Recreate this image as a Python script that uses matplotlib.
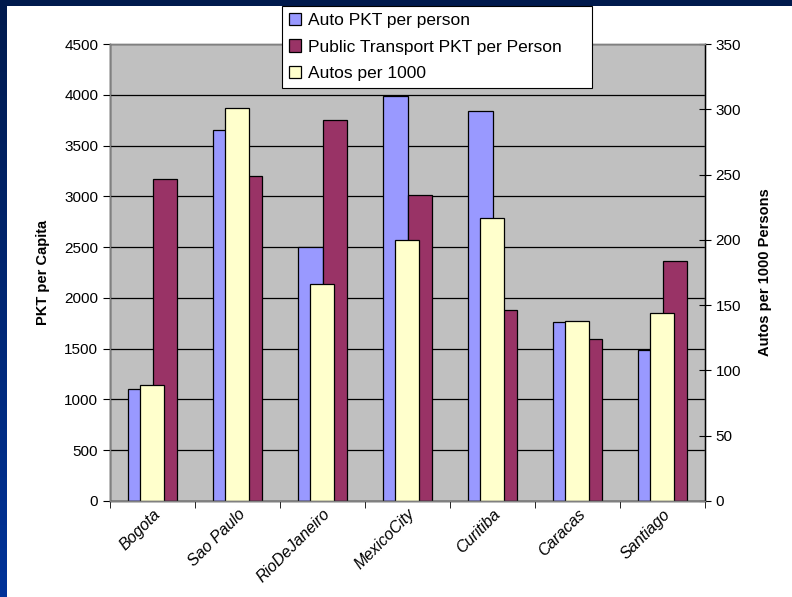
import matplotlib
matplotlib.use('Agg')
import matplotlib.pyplot as plt
import matplotlib.transforms as mtransforms
import numpy as np
from matplotlib.patches import Rectangle
from matplotlib.colors import LinearSegmentedColormap

plt.rcParams['font.family'] = ['Liberation Sans', 'DejaVu Sans']

cities = ['Bogota', 'Sao Paulo', 'RioDeJaneiro', 'MexicoCity', 'Curitiba', 'Caracas', 'Santiago']
auto_pkt = [1100, 3650, 2500, 3990, 3840, 1760, 1490]
public_pkt = [3170, 3200, 3750, 3010, 1880, 1600, 2360]
autos_per_1000 = [89, 301, 166, 200, 217, 138, 144]

fig = plt.figure(figsize=(7.92, 5.97), dpi=100)

# dark blue slide background with white chart area
bg = fig.add_axes([0, 0, 1, 1], zorder=-10)
grad = np.linspace(0, 1, 256).reshape(-1, 1)
cmap = LinearSegmentedColormap.from_list('slide', ['#001a4d', '#003399'])
bg.imshow(grad, aspect='auto', cmap=cmap, extent=[0, 1, 0, 1])
bg.set_axis_off()
bg.add_patch(Rectangle((7 / 792, 0), 1, 1 - 6 / 597, transform=bg.transAxes,
                       facecolor='white', edgecolor='none', zorder=5))

ax1 = fig.add_axes([110 / 792, 96 / 597, 595 / 792, 457 / 597])
ax2 = ax1.twinx()

x = np.arange(len(cities))
w = 0.294

ax1.set_facecolor('#c0c0c0')
ax1.set_axisbelow(True)
ax1.yaxis.grid(True, color='black', linewidth=0.9)
b1 = ax1.bar(x - w / 2, auto_pkt, w, color='#9999ff', edgecolor='black', linewidth=0.9,
             label='Auto PKT per person')
b2 = ax1.bar(x + w / 2, public_pkt, w, color='#993366', edgecolor='black', linewidth=0.9,
             label='Public Transport PKT per Person')
b3 = ax2.bar(x - 0.01, autos_per_1000, 0.28, color='#ffffcc', edgecolor='black', linewidth=0.9,
             label='Autos per 1000')

ax1.set_xlim(-0.5, len(cities) - 0.5)
ax1.set_ylim(0, 4500)
ax1.set_yticks(np.arange(0, 4501, 500))
ax2.set_ylim(0, 350)
ax2.set_yticks(np.arange(0, 351, 50))

ax1.set_xticks(x)
ax1.set_xticklabels(cities, rotation=45, ha='right', rotation_mode='anchor',
                    style='italic', fontsize=11.5)
# nudge the slanted labels a bit to the left, like the original
shift = mtransforms.ScaledTranslation(-6 / 72, 0, fig.dpi_scale_trans)
for lbl in ax1.get_xticklabels():
    lbl.set_transform(lbl.get_transform() + shift)
ax1.tick_params(axis='x', length=0, pad=4)
ax1.set_xticks(np.arange(-0.5, len(cities)), minor=True)
ax1.tick_params(axis='x', which='minor', length=5, color='black')
ax1.tick_params(axis='y', labelsize=11, length=5, color='black')
ax2.tick_params(axis='y', labelsize=11, length=8, direction='inout', color='black')

for ax in (ax1, ax2):
    for s in ax.spines.values():
        s.set_color('#808080')
        s.set_linewidth(1)
ax1.spines['left'].set_color('black')
ax1.spines['bottom'].set_color('black')
ax2.spines['right'].set_color('black')

ax1.set_ylabel('PKT per Capita', fontweight='bold', fontsize=10.5, labelpad=10)
ax2.set_ylabel('Autos per 1000 Persons', fontweight='bold', fontsize=10.5, labelpad=12)

leg = fig.legend(handles=[b1, b2, b3], loc='upper left',
                 bbox_to_anchor=(282 / 792, 88 / 597, 310 / 792, 1 - 6 / 597 - 88 / 597),
                 mode='expand', fontsize=12.5, framealpha=1,
                 frameon=True, fancybox=False, handlelength=0.7, handleheight=0.7,
                 handletextpad=0.4, borderpad=0.4, labelspacing=0.65, borderaxespad=0)
leg.get_frame().set_edgecolor('black')
leg.get_frame().set_linewidth(0.8)

fig.savefig('out.png', dpi=100)
